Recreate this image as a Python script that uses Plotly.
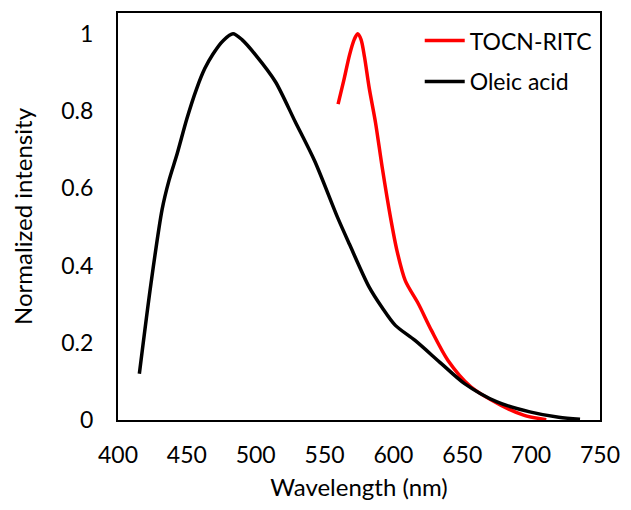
import plotly.graph_objects as go

# Oleic acid (black)
oleic_wl = [415.5, 424, 432, 437, 443, 450, 457, 463, 469, 476.5, 483.5, 490, 500, 514.3,
            528.6, 542.9, 559.5, 568.1, 582.4, 592, 601.4, 615.7, 634.8, 651.4, 675.2, 699, 720, 735.5]
oleic_int = [0.12, 0.355, 0.545, 0.62, 0.69, 0.78, 0.857, 0.91, 0.948, 0.983, 1.0, 0.985, 0.945, 0.876,
             0.773, 0.67, 0.524, 0.455, 0.344, 0.29, 0.245, 0.206, 0.146, 0.095, 0.047, 0.021, 0.007, 0.002]

# TOCN-RITC (red)
tocn_wl = [559.8, 564, 568.1, 571.5, 574, 576.5, 579, 582.4, 587, 591.9, 597.9, 602.6,
           608.6, 618.1, 627.6, 639.5, 656.2, 677.6, 695, 711]
tocn_int = [0.818, 0.88, 0.945, 0.985, 1.0, 0.985, 0.94, 0.86, 0.77, 0.653, 0.524, 0.438,
            0.361, 0.301, 0.232, 0.155, 0.086, 0.039, 0.012, 0.001]

x_ticks = [400, 450, 500, 550, 600, 650, 700, 750]
y_ticks = [0, 0.2, 0.4, 0.6, 0.8, 1]
y_tick_text = ["0", "0.2", "0.4", "0.6", "0.8", "1"]

FONT = "Lato"

fig = go.Figure()
fig.add_trace(go.Scatter(x=tocn_wl, y=tocn_int, mode="lines", name="TOCN-RITC",
                         line=dict(color="#ff0000", width=3.5, shape="spline", smoothing=0.8),
                         legendgroup="a"))
fig.add_trace(go.Scatter(x=oleic_wl, y=oleic_int, mode="lines", name="Oleic acid",
                         line=dict(color="#000000", width=3.5, shape="spline", smoothing=0.8),
                         legendgroup="b"))

fig.update_layout(
    width=631, height=510,
    margin=dict(l=118, r=23, t=11, b=90),
    paper_bgcolor="white", plot_bgcolor="white",
    font=dict(family=FONT, size=23, color="#000000"),
    showlegend=True,
    legend=dict(x=0.626, y=0.985, xanchor="left", yanchor="top",
                bgcolor="rgba(0,0,0,0)", font=dict(size=23),
                traceorder="grouped", tracegroupgap=8, itemwidth=40),
    xaxis=dict(range=[400, 750], tickvals=x_ticks, showgrid=False, zeroline=False,
               showline=True, mirror=True, linecolor="#000000", linewidth=2,
               ticks="", ticklabelstandoff=13, tickfont=dict(size=23),
               title=dict(text="Wavelength (nm)", standoff=13, font=dict(size=24))),
    yaxis=dict(range=[0, 1.054], tickvals=y_ticks, ticktext=y_tick_text, showgrid=False,
               zeroline=False, showline=True, mirror=True, linecolor="#000000", linewidth=2,
               ticks="", ticklabelstandoff=18, tickfont=dict(size=23),
               title=dict(text="Normalized intensity", standoff=22, font=dict(size=24))),
)

fig.write_html("out.html")
